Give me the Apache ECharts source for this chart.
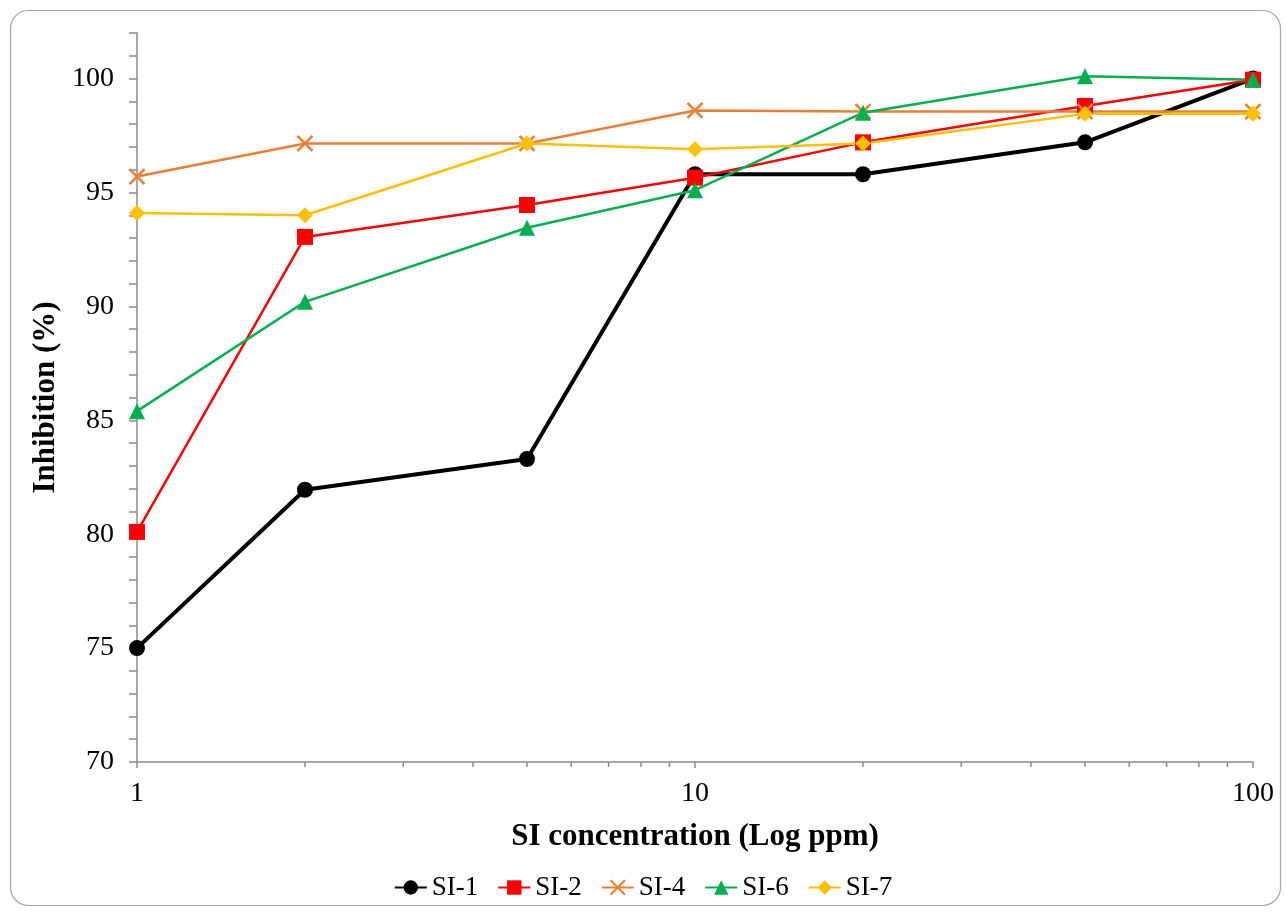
<!DOCTYPE html>
<html>
<head>
<meta charset="utf-8">
<script src="https://cdn.jsdelivr.net/npm/echarts@6/dist/echarts.min.js"></script>
<style>
  html, body { margin: 0; padding: 0; background: #fff; }
  #chart { width: 1286px; height: 917px; }
</style>
</head>
<body>
<div id="chart"></div>
<script>
// data
const concentrations = [1, 2, 5, 10, 20, 50, 100];
const si1 = [75.0, 81.95, 83.3, 95.8, 95.8, 97.2, 100.0];
const si2 = [80.1, 93.05, 94.45, 95.65, 97.2, 98.8, 99.95];
const si4 = [95.7, 97.15, 97.15, 98.6, 98.55, 98.55, 98.55];
const si6 = [85.4, 90.2, 93.45, 95.1, 98.5, 100.1, 99.95];
const si7 = [94.1, 94.0, 97.15, 96.9, 97.15, 98.45, 98.45];
const minorX = [2, 3, 4, 5, 6, 7, 8, 9, 20, 30, 40, 50, 60, 70, 80, 90];

const FONT = "'Liberation Serif', 'DejaVu Serif', serif";
const CROSS = 'path://M0,0L10,10M10,0L0,10';

function pairs(vals) {
    return concentrations.map((c, i) => [c, vals[i]]);
}

function lineSeries(name, vals, color, symbol, size, width) {
    return {
        name: name,
        type: 'line',
        data: pairs(vals),
        symbol: symbol,
        symbolSize: size,
        showSymbol: true,
        lineStyle: { color: color, width: width },
        itemStyle: symbol === CROSS
            ? { color: 'transparent', borderColor: color, borderWidth: 2.5 }
            : { color: color },
        emphasis: { disabled: true },
        animation: false
    };
}

const chart = echarts.init(document.getElementById('chart'));

chart.setOption({
    backgroundColor: '#fff',
    animation: false,
    textStyle: { fontFamily: FONT },
    grid: { left: 137, right: 33, top: 33, bottom: 155 },
    xAxis: {
        type: 'log',
        logBase: 10,
        min: 1,
        max: 100,
        name: 'SI concentration (Log ppm)',
        nameLocation: 'middle',
        nameGap: 59,
        nameTextStyle: { fontFamily: FONT, fontSize: 31, fontWeight: 'bold', color: '#000' },
        axisLine: { lineStyle: { color: '#8c8c8c', width: 1.5 } },
        axisTick: { show: true, length: 6, lineStyle: { color: '#8c8c8c', width: 1.5 } },
        axisLabel: { fontFamily: FONT, fontSize: 28, color: '#000', margin: 18 },
        splitLine: { show: false }
    },
    yAxis: {
        type: 'value',
        min: 70,
        max: 102,
        interval: 1,
        name: 'Inhibition (%)',
        nameLocation: 'middle',
        nameGap: 69,
        nameTextStyle: { fontFamily: FONT, fontSize: 31, fontWeight: 'bold', color: '#000' },
        axisLine: { show: true, lineStyle: { color: '#8c8c8c', width: 1.5 } },
        axisTick: { show: true, length: 8, interval: 0, lineStyle: { color: '#8c8c8c', width: 1.5 } },
        axisLabel: {
            interval: 0,
            fontFamily: FONT, fontSize: 28, color: '#000', margin: 23,
            formatter: v => (v % 5 === 0 ? String(v) : '')
        },
        splitLine: { show: false }
    },
    legend: {
        bottom: 11,
        left: 'center',
        itemWidth: 32,
        itemHeight: 18,
        itemGap: 19,
        textStyle: { fontFamily: FONT, fontSize: 27, color: '#000' },
        data: ['SI-1', 'SI-2', 'SI-4', 'SI-6', 'SI-7']
    },
    series: [
        lineSeries('SI-1', si1, '#000000', 'circle', 16, 4),
        lineSeries('SI-2', si2, '#ff0000', 'rect', 16, 2.5),
        lineSeries('SI-4', si4, '#ed7d31', CROSS, 15, 2.5),
        lineSeries('SI-6', si6, '#00b050', 'triangle', 16, 2.5),
        lineSeries('SI-7', si7, '#ffc000', 'diamond', 16, 2.5)
    ]
});

// minor ticks on the log axis, positioned through the axis scale
function drawExtras() {
    const y0 = chart.convertToPixel({ yAxisIndex: 0 }, 70);
    const ticks = minorX.map(v => {
        const x = chart.convertToPixel({ xAxisIndex: 0 }, v);
        return {
            type: 'line',
            shape: { x1: x, y1: y0, x2: x, y2: y0 + 5 },
            style: { stroke: '#8c8c8c', lineWidth: 1.5 },
            silent: true
        };
    });
    ticks.push({
        type: 'rect',
        shape: { x: 10.5, y: 10.5, width: 1270, height: 895, r: 18 },
        style: { fill: null, stroke: '#a6a6a6', lineWidth: 1.2 },
        silent: true,
        z: -1
    });
    chart.setOption({ graphic: ticks });
}

drawExtras();
</script>
</body>
</html>
